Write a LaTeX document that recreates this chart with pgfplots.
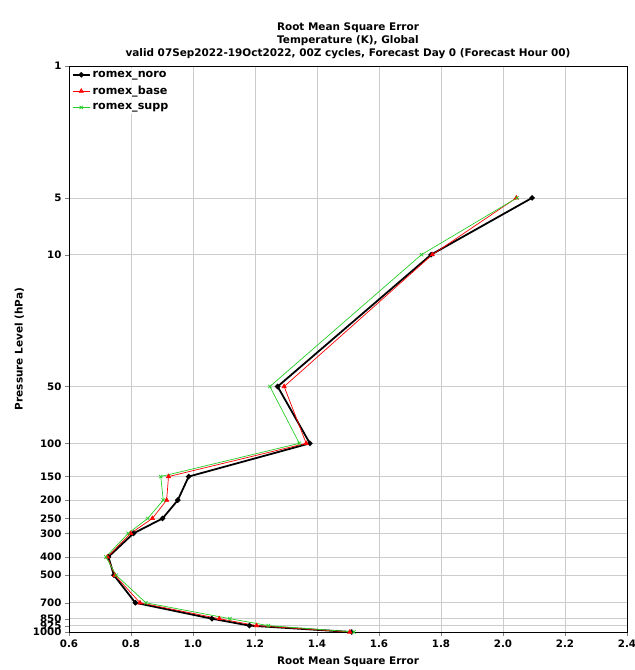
\documentclass[border=0pt]{standalone}
\usepackage{pgfplots}
\pgfplotsset{compat=1.18}
\usepackage{fontspec}
\setmainfont{DejaVu Sans}

% RMSE of temperature against pressure level, three experiments
\pgfplotstableread{
p     noro   base   supp
5     2.094  2.043  2.045
10    1.768  1.772  1.737
50    1.273  1.294  1.248
100   1.377  1.365  1.343
150   0.986  0.921  0.896
200   0.951  0.915  0.904
250   0.902  0.869  0.854
300   0.808  0.799  0.791
400   0.727  0.724  0.719
500   0.745  0.748  0.752
700   0.814  0.829  0.848
850   1.061  1.085  1.119
925   1.182  1.205  1.243
1000  1.512  1.506  1.519
}\rmse

\definecolor{suppgreen}{RGB}{40,205,40}

\begin{document}
\begin{tikzpicture}
\path[use as bounding box] (-69bp,-38bp) rectangle (566bp,632bp);
\begin{axis}[
  at={(0,0)}, anchor=south west,
  width=558bp, height=566bp, scale only axis,
  xmin=0.6, xmax=2.4,
  ymode=log, ymin=1, ymax=1000, y dir=reverse,
  xtick={0.6,0.8,...,2.41},
  xticklabel style={/pgf/number format/.cd, fixed, fixed zerofill, precision=1},
  ytick={1,5,10,50,100,150,200,250,300,400,500,700,850,925,1000},
  yticklabels={1,5,10,50,100,150,200,250,300,400,500,700,850,925,1000},
  minor ytick={},
  log basis y=10,
  /pgf/number format/assume math mode=true,
  tick label style={font=\fontsize{10.3}{12}\selectfont\bfseries},
  tick align=outside, tick pos=left,
  major tick length=4bp,
  grid=major,
  grid style={gray!40, line width=0.6pt},
  axis line style={black, line width=0.6pt},
  title={Root Mean Square Error\\Temperature (K), Global\\valid 07Sep2022-19Oct2022, 00Z cycles, Forecast Day 0 (Forecast Hour 00)},
  title style={align=center, font=\fontsize{10.5}{13}\selectfont\bfseries, yshift=-2bp},
  xlabel={Root Mean Square Error},
  ylabel={Pressure Level (hPa)},
  label style={font=\fontsize{10.5}{12}\selectfont\bfseries},
  xlabel style={yshift=-3bp},
  ylabel style={yshift=2bp},
  legend style={draw=none, fill=white, fill opacity=0.8, text opacity=1,
    font=\fontsize{11.2}{13}\selectfont\bfseries, row sep=3.5bp,
    inner xsep=1bp, inner ysep=1bp, at={(0.003,0.997)}, anchor=north west},
  legend cell align=left,
]
\addplot[black, line width=1.8pt, mark=*, mark size=1.7pt] table[x=noro, y=p] {\rmse};
\addlegendentry{romex\_noro}
\addplot[red, line width=0.7pt, mark=triangle*, mark size=2.4pt] table[x=base, y=p] {\rmse};
\addlegendentry{romex\_base}
\addplot[suppgreen, line width=0.7pt, mark=x, mark size=2.4pt] table[x=supp, y=p] {\rmse};
\addlegendentry{romex\_supp}
\end{axis}
\end{tikzpicture}
\end{document}
